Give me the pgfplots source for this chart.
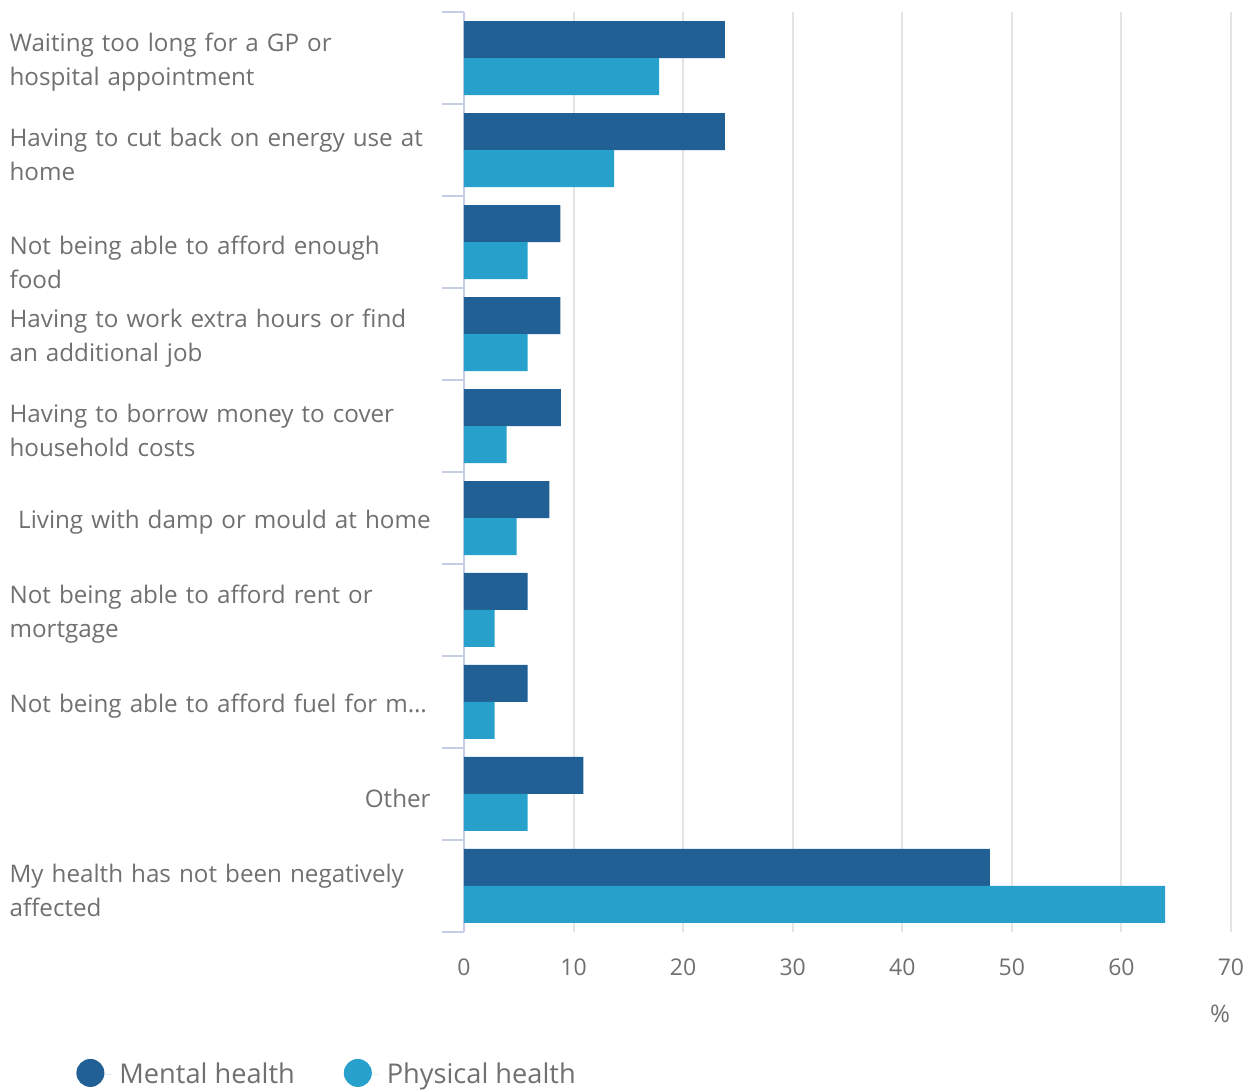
\documentclass[border=0pt]{standalone}
\usepackage{fontspec}
\setmainfont{Open Sans}
\usepackage{pgfplots}
\pgfplotsset{compat=1.18}
\definecolor{mental}{HTML}{206095}
\definecolor{physical}{HTML}{27A0CC}
\definecolor{txt}{HTML}{707070}
\definecolor{axisln}{HTML}{C6CEE6}
\definecolor{gridln}{HTML}{E4E4E4}
\newcommand{\lblfont}{\fontsize{12.1}{17}\selectfont}
\newcommand{\legfont}{\fontsize{13.6}{17}\selectfont}
\begin{document}
\begin{tikzpicture}
\useasboundingbox (-232pt,-80pt) rectangle (395.5pt,466pt);
\begin{axis}[
  scale only axis, width=383.5pt, height=460pt,
  xbar, bar width=18.5pt,
  xmin=0, xmax=70, ymin=-0.5, ymax=9.5,
  xtick={0,10,...,70},
  ytick={0,...,9},
  minor ytick={-0.5,0.5,...,9.5},
  yticklabels={
    {My health has not been negatively\\affected},
    {\hfill Other},
    {Not being able to afford fuel for m…},
    {Not being able to afford rent or\\mortgage},
    {\hfill Living with damp or mould at home},
    {Having to borrow money to cover\\household costs},
    {Having to work extra hours or find\\an additional job},
    {\rule{0pt}{25pt}Not being able to afford enough\\food},
    {Having to cut back on energy use at\\home},
    {Waiting too long for a GP or\\hospital appointment}},
  axis x line*=bottom, axis y line*=left,
  x axis line style={draw=none},
  y axis line style={draw=axisln, line width=1pt},
  xmajorgrids, major grid style={draw=gridln, line width=1pt},
  major tick length=0pt, minor tick length=11pt,
  tick align=outside,
  minor tick style={draw=axisln, line width=1pt},
  /pgf/number format/assume math mode=true,
  xticklabel style={font=\fontsize{11.5}{14}\selectfont, text=txt, anchor=center, yshift=-17.5pt},
  yticklabel style={font=\lblfont, text=txt, text width=210.5pt, align=left,
    inner sep=0pt, anchor=east, xshift=-16.5pt, yshift=-2.2pt},
  xlabel={\%},
  xlabel style={at={(axis description cs:0.9857,0)}, anchor=center, yshift=-41pt,
    font=\lblfont, text=txt},
  legend columns=2,
  legend style={draw=none, fill=none, at={(axis description cs:-0.5137,-0.1554)},
    anchor=west, font=\legfont, text=txt,
    nodes={inner sep=4pt},
    /tikz/every even column/.append style={column sep=20.5pt}},
  legend cell align=left,
]
\addplot[fill=mental, draw=none, bar shift=9.25pt,
  legend image code/.code={\path (0pt,0pt) -- (17.5pt,0pt); \fill[mental] (7pt,1pt) circle (7pt);}]
  coordinates {(48.0,0) (10.9,1) (5.8,2) (5.8,3) (7.8,4) (8.85,5) (8.8,6) (8.8,7) (23.8,8) (23.8,9)};
\addplot[fill=physical, draw=none, bar shift=-9.25pt,
  legend image code/.code={\path (0pt,0pt) -- (17.5pt,0pt); \fill[physical] (7pt,1pt) circle (7pt);}]
  coordinates {(64.0,0) (5.8,1) (2.8,2) (2.8,3) (4.8,4) (3.9,5) (5.8,6) (5.8,7) (13.7,8) (17.8,9)};
\legend{Mental health, Physical health}
\end{axis}
\end{tikzpicture}
\end{document}
